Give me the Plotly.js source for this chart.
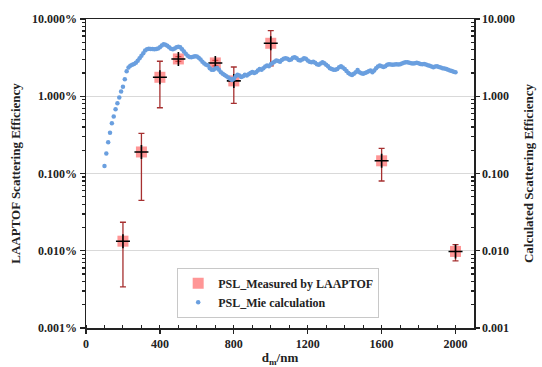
<!DOCTYPE html>
<html>
<head>
<meta charset="utf-8">
<script src="https://cdn.plot.ly/plotly-3.0.1.min.js"></script>
<style>
html,body{margin:0;padding:0;background:#fff;}
#chart{width:542px;height:367px;}
</style>
</head>
<body>
<div id="chart"></div>
<script>
// Measured (LAAPTOF) scattering efficiency, %
var measuredX = [200, 300, 400, 500, 700, 800, 1000, 1600, 2000];
var measuredY = [0.0133, 0.19, 1.76, 3.04, 2.70, 1.58, 4.85, 0.146, 0.0098];
var measuredErrPlus = [0.0101, 0.14, 1.08, 0.22, 0.22, 0.81, 2.21, 0.066, 0.0022];
var measuredErrMinus = [0.0099, 0.145, 1.05, 0.22, 0.22, 0.77, 2.38, 0.066, 0.0024];

// Mie calculation
var mieX = [100,110,120,130,140,150,160,170,180,190,200,210,220,230,240,250,260,270,280,290,
  300,310,320,330,340,350,360,370,380,390,400,410,420,430,440,450,460,470,480,490,
  500,510,520,530,540,550,560,570,580,590,600,610,620,630,640,650,660,670,680,690,
  700,710,720,730,740,750,760,770,780,790,800,810,820,830,840,850,860,870,880,890,
  900,910,920,930,940,950,960,970,980,990,1000,1010,1020,1030,1040,1050,1060,1070,1080,1090,
  1100,1110,1120,1130,1140,1150,1160,1170,1180,1190,1200,1210,1220,1230,1240,1250,1260,1270,1280,1290,
  1300,1310,1320,1330,1340,1350,1360,1370,1380,1390,1400,1410,1420,1430,1440,1450,1460,1470,1480,1490,
  1500,1510,1520,1530,1540,1550,1560,1570,1580,1590,1600,1610,1620,1630,1640,1650,1660,1670,1680,1690,
  1700,1710,1720,1730,1740,1750,1760,1770,1780,1790,1800,1810,1820,1830,1840,1850,1860,1870,1880,1890,
  1900,1910,1920,1930,1940,1950,1960,1970,1980,1990,2000];
var mieY = [0.125,0.181,0.254,0.338,0.448,0.545,0.679,0.812,0.96,1.15,1.33,1.66,2.1,2.35,2.48,2.56,2.62,2.72,2.88,3.1,
  3.35,3.6,3.9,4.06,4.12,4.10,4.08,4.06,4.10,4.15,4.3,4.55,4.72,4.65,4.5,4.3,4.12,4.05,4.15,4.3,
  4.38,4.3,4.05,3.8,3.55,3.35,3.22,3.2,3.25,3.3,3.28,3.15,2.98,2.8,2.65,2.55,2.5,2.3,2.2,2.2,
  2.28,2.32,2.2,2.05,1.95,1.88,1.82,1.75,1.68,1.62,1.68,1.82,1.9,1.85,1.78,1.82,1.9,1.85,1.92,2.0,
  2.06,2.0,2.05,2.15,2.25,2.2,2.3,2.42,2.5,2.45,2.6,2.7,2.8,2.9,2.85,2.8,2.95,3.05,3.1,3.05,
  2.95,3.0,3.15,3.2,3.1,2.95,2.9,3.0,3.1,3.05,2.9,2.8,2.75,2.8,2.72,2.6,2.55,2.65,2.75,2.68,
  2.55,2.45,2.3,2.25,2.2,2.2,2.25,2.38,2.45,2.35,2.25,2.12,2.0,1.92,1.88,1.95,2.05,2.18,2.05,1.98,
  1.95,2.0,2.05,2.1,2.15,2.05,2.15,2.3,2.42,2.5,2.45,2.4,2.45,2.55,2.6,2.58,2.55,2.58,2.6,2.58,
  2.6,2.65,2.72,2.75,2.75,2.72,2.68,2.65,2.68,2.72,2.68,2.62,2.6,2.62,2.58,2.52,2.48,2.42,2.38,2.42,
  2.45,2.4,2.35,2.3,2.28,2.25,2.2,2.15,2.12,2.08,2.05];

// Tick labels
var yTickVals = [0.001, 0.01, 0.1, 1, 10];
var yLeftTickText = ['0.001%', '0.010%', '0.100%', '1.000%', '10.000%'];
var yRightTickText = ['0.001', '0.010', '0.100', '1.000', '10.000'];
var xTickVals = [0, 400, 800, 1200, 1600, 2000];
var yMinorVals = [0.002,0.003,0.004,0.005,0.006,0.007,0.008,0.009,0.02,0.03,0.04,0.05,0.06,0.07,0.08,0.09,
  0.2,0.3,0.4,0.5,0.6,0.7,0.8,0.9,2,3,4,5,6,7,8,9];

var font = 'Liberation Serif, Times New Roman, serif';

var traces = [
  {
    x: mieX, y: mieY, type: 'scatter', mode: 'markers', yaxis: 'y2',
    name: '<b>PSL_Mie calculation</b>',
    marker: {symbol: 'circle', size: 4.5, color: '#6a9fdf'}
  },
  {
    x: measuredX, y: measuredY, type: 'scatter', mode: 'markers',
    name: '<b>PSL_Measured by LAAPTOF</b>',
    marker: {symbol: 'square', size: 11, color: 'rgba(255,80,80,0.6)', line: {width: 0}},
    error_y: {type: 'data', symmetric: false, array: measuredErrPlus, arrayminus: measuredErrMinus,
      color: '#a63030', thickness: 1.3, width: 3}
  },
  {
    x: measuredX, y: measuredY, type: 'scatter', mode: 'markers', showlegend: false,
    marker: {symbol: 'cross-thin', size: 10, line: {width: 1.6, color: '#000'}}
  }
];

var layout = {
  width: 542, height: 367,
  margin: {l: 86, r: 68, t: 19, b: 39},
  paper_bgcolor: '#fff', plot_bgcolor: '#fff',
  font: {family: font, size: 12, color: '#222'},
  showlegend: true,
  legend: {
    x: 0.235, y: 0.195, xanchor: 'left', yanchor: 'top',
    bgcolor: '#fff', bordercolor: '#c8c8c8', borderwidth: 1,
    font: {family: font, size: 12, color: '#222'},
    traceorder: 'reversed', tracegroupgap: 0, itemwidth: 30
  },
  xaxis: {
    range: [0, 2100], tickvals: xTickVals, ticktext: xTickVals.map(String),
    showgrid: false, zeroline: false,
    showline: true, linecolor: '#222', linewidth: 1.5, mirror: true,
    ticks: 'outside', ticklen: 4, tickcolor: '#222', tickwidth: 1.3,
    minor: {dtick: 100, ticks: 'inside', ticklen: 3, tickcolor: '#222', tickwidth: 1},
    tickfont: {family: font, size: 12, color: '#222', weight: 'bold'},
    title: {text: '<b>d<sub>m</sub>/nm</b>', font: {family: font, size: 13, color: '#222'}, standoff: 0}
  },
  yaxis: {
    type: 'log', range: [-3, 1],
    tickvals: yTickVals, ticktext: yLeftTickText,
    showgrid: true, gridcolor: '#d9d9d9', gridwidth: 1, zeroline: false,
    showline: true, linecolor: '#222', linewidth: 1.5,
    ticks: 'outside', ticklen: 5, tickcolor: '#222', tickwidth: 1.3,
    minor: {tickvals: yMinorVals, ticks: 'outside', ticklen: 3, tickcolor: '#222', showgrid: false},
    tickfont: {family: font, size: 12, color: '#222', weight: 'bold'},
    title: {text: '<b>LAAPTOF Scattering Efficiency</b>', font: {family: font, size: 13, color: '#222'}, standoff: 8}
  },
  yaxis2: {
    type: 'log', range: [-3, 1], overlaying: 'y', side: 'right',
    tickvals: yTickVals, ticktext: yRightTickText,
    showgrid: false, zeroline: false,
    showline: true, linecolor: '#222', linewidth: 1.5,
    ticks: 'outside', ticklen: 4, tickcolor: '#222', tickwidth: 1.3,
    minor: {tickvals: yMinorVals, ticks: 'inside', ticklen: 3, tickcolor: '#222', showgrid: false},
    tickfont: {family: font, size: 12, color: '#222', weight: 'bold'},
    title: {text: '<b>Calculated Scattering Efficiency</b>', font: {family: font, size: 13, color: '#222'}, standoff: 10}
  }
};

Plotly.newPlot('chart', traces, layout, {displayModeBar: false, staticPlot: true});
</script>
</body>
</html>
